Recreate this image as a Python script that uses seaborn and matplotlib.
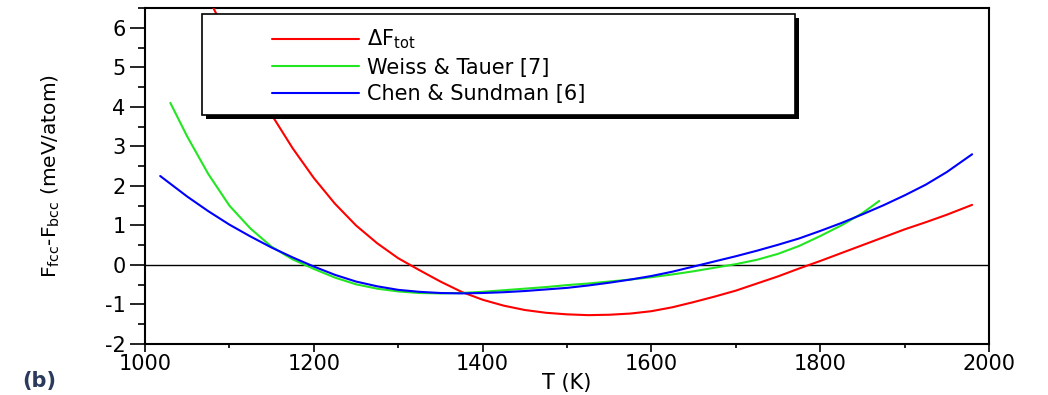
import numpy as np
import pandas as pd
import matplotlib
matplotlib.use("Agg")
import matplotlib.pyplot as plt
import matplotlib.transforms as mtransforms
from matplotlib.patches import Rectangle
from matplotlib.ticker import MultipleLocator
import seaborn as sns

# Free-energy difference F_fcc - F_bcc (meV/atom) versus temperature (K)
T_tot = [1081, 1100, 1125, 1150, 1175, 1200, 1225, 1250, 1275, 1300, 1325, 1350,
         1375, 1400, 1425, 1450, 1475, 1500, 1525, 1550, 1575, 1600, 1625, 1650,
         1675, 1700, 1725, 1750, 1775, 1800, 1825, 1850, 1875, 1900, 1925, 1950, 1980]
F_tot = [6.50, 5.70, 4.72, 3.80, 2.95, 2.20, 1.55, 1.00, 0.55, 0.17, -0.13, -0.42,
         -0.68, -0.88, -1.03, -1.14, -1.21, -1.25, -1.27, -1.26, -1.23, -1.17, -1.07, -0.94,
         -0.80, -0.65, -0.47, -0.29, -0.09, 0.10, 0.30, 0.50, 0.70, 0.90, 1.08, 1.27, 1.52]

T_weiss = [1030, 1050, 1075, 1100, 1125, 1150, 1175, 1200, 1225, 1250, 1275, 1300,
           1325, 1350, 1375, 1400, 1425, 1450, 1475, 1500, 1525, 1550, 1575, 1600,
           1625, 1650, 1675, 1700, 1725, 1750, 1775, 1800, 1825, 1850, 1870]
F_weiss = [4.10, 3.25, 2.30, 1.50, 0.92, 0.46, 0.14, -0.10, -0.32, -0.49, -0.60, -0.67,
           -0.71, -0.72, -0.71, -0.68, -0.64, -0.60, -0.56, -0.51, -0.47, -0.42, -0.37, -0.31,
           -0.24, -0.16, -0.07, 0.02, 0.13, 0.28, 0.48, 0.73, 1.00, 1.31, 1.62]

T_chen = [1018, 1050, 1075, 1100, 1125, 1150, 1175, 1200, 1225, 1250, 1275, 1300,
          1325, 1350, 1375, 1400, 1425, 1450, 1475, 1500, 1525, 1550, 1575, 1600,
          1625, 1650, 1675, 1700, 1725, 1750, 1775, 1800, 1825, 1850, 1875, 1900,
          1925, 1950, 1980]
F_chen = [2.25, 1.73, 1.36, 1.02, 0.72, 0.44, 0.19, -0.04, -0.25, -0.42, -0.54, -0.63,
          -0.68, -0.71, -0.72, -0.71, -0.69, -0.66, -0.62, -0.58, -0.52, -0.45, -0.37, -0.28,
          -0.17, -0.04, 0.09, 0.22, 0.36, 0.51, 0.67, 0.86, 1.06, 1.28, 1.51, 1.76,
          2.03, 2.35, 2.80]

series_labels = [r"ΔF$_{\mathregular{tot}}$", "Weiss & Tauer [7]", "Chen & Sundman [6]"]
series_colors = ["#ff0000", "#22e622", "#0000ff"]

x_ticks = [1000, 1200, 1400, 1600, 1800, 2000]
y_ticks = [-2, -1, 0, 1, 2, 3, 4, 5, 6]

sns.set_style("ticks")
plt.rcParams["font.family"] = ["DejaVu Sans"]
plt.rcParams["mathtext.default"] = "regular"
plt.rcParams["axes.unicode_minus"] = False
for key in ["text.color", "axes.labelcolor", "xtick.color", "ytick.color"]:
    plt.rcParams[key] = "black"

fig = plt.figure(figsize=(10.48, 3.95), dpi=100)
ax = fig.add_axes([145 / 1048, 51 / 395, 844 / 1048, 336 / 395])

ax.axhline(0, color="black", lw=1.0, zorder=1)

for T, F, lab, col in zip([T_tot, T_weiss, T_chen], [F_tot, F_weiss, F_chen],
                          series_labels, series_colors):
    df = pd.DataFrame({"T": T, "F": F})
    sns.lineplot(data=df, x="T", y="F", ax=ax, color=col, lw=1.5, label=lab, zorder=3)

ax.set_xlim(1000, 2000)
ax.set_ylim(-2, 6.5)
ax.set_xticks(x_ticks)
ax.set_yticks(y_ticks)
ax.xaxis.set_minor_locator(MultipleLocator(100))
ax.yaxis.set_minor_locator(MultipleLocator(0.5))
ax.tick_params(axis="x", which="major", direction="out", length=6, width=1.2,
               labelsize=15, pad=1)
ax.tick_params(axis="x", which="minor", direction="out", length=3, width=1.2)
ax.tick_params(axis="y", which="major", direction="out", length=11, width=1.2,
               labelsize=15, pad=3)
ax.tick_params(axis="y", which="minor", direction="out", length=5, width=1.2)
for s in ax.spines.values():
    s.set_visible(True)
    s.set_linewidth(1.5)
    s.set_color("black")

ax.set_xlabel("T (K)", fontsize=15)
ax.set_ylabel(r"F$_{fcc}$-F$_{bcc}$ (meV/atom)", fontsize=14.5)
ax.xaxis.set_label_coords(0.5, -0.085)
ax.yaxis.set_label_coords(-0.098, 0.5)

# Legend: white box with a solid drop shadow
bx, by, bw, bh = 0.0675, 0.6815, 0.7025, 0.3005
shadow_tf = ax.transAxes + mtransforms.ScaledTranslation(4 / 100, -4 / 100, fig.dpi_scale_trans)
ax.add_patch(Rectangle((bx, by), bw, bh, transform=shadow_tf, facecolor="black",
                       edgecolor="none", zorder=5, clip_on=False))
ax.add_patch(Rectangle((bx, by), bw, bh, transform=ax.transAxes, facecolor="white",
                       edgecolor="black", lw=1.2, zorder=6, clip_on=False))
leg = ax.legend(loc="upper left", bbox_to_anchor=(0.150, 0.941), frameon=False,
                fontsize=15, handlelength=4.2, handletextpad=0.4, labelspacing=0.30,
                borderpad=0, borderaxespad=0)
leg.set_zorder(7)
for line in leg.get_lines():
    line.set_linewidth(1.5)

fig.text(22 / 1048, 4 / 395, "(b)", fontsize=15, fontweight="bold", color="#2b3a5c",
         ha="left", va="bottom")

fig.savefig("out.png", dpi=100)
